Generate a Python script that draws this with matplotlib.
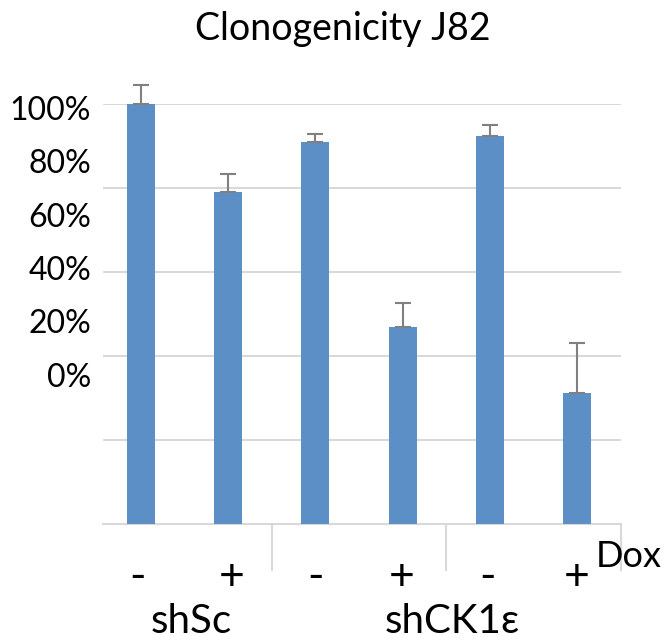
import matplotlib.pyplot as plt

W, H = 668, 641

dox = ["-", "+", "-", "+", "-", "+"]
groups = ["shSc", "shCK1ε"]
values = [1.00, 0.79, 0.91, 0.47, 0.925, 0.313]
errors = [0.045, 0.044, 0.019, 0.056, 0.026, 0.117]
ylabels = ["100%", "80%", "60%", "40%", "20%", "0%"]

plt.rcParams["font.family"] = ["Lato", "DejaVu Sans"]


def fx(x):
    return x / W


def fy(y):
    return 1 - y / H


fig = plt.figure(figsize=(W / 100, H / 100), dpi=100)
ax = fig.add_axes([fx(103), fy(524), fx(621) - fx(103), fy(104) - fy(524)])

x = range(len(values))
ax.bar(x, values, width=0.32, color="#5b8fc6", zorder=3)
ax.errorbar(x, values, yerr=[[0] * len(errors), errors], fmt="none",
            ecolor="#808080", elinewidth=1.5, capsize=6, capthick=1.5,
            zorder=4, clip_on=False)

ax.set_xlim(-0.43, 5.5)
ax.set_ylim(0, 1.0)
ax.set_yticks([0.2, 0.4, 0.6, 0.8, 1.0])
ax.yaxis.grid(True, color="#d9d9d9", linewidth=1.5, zorder=0)
ax.tick_params(left=False, labelleft=False, bottom=False, labelbottom=False)
for side in ["top", "right", "left"]:
    ax.spines[side].set_visible(False)
ax.spines["bottom"].set_color("#d9d9d9")
ax.spines["bottom"].set_linewidth(1.5)

# group separators below the axis
for sx in [1.5, 3.5, 5.5]:
    ax.plot([sx, sx], [0, -0.11], color="#d9d9d9", linewidth=1.5,
            clip_on=False, zorder=1)

fig.text(fx(343), fy(40), "Clonogenicity J82", fontsize=27,
         ha="center", va="baseline")

label_base = [120, 173, 227, 280, 333, 387]
for lab, yb in zip(ylabels, label_base):
    fig.text(fx(91), fy(yb), lab, fontsize=23, ha="right", va="baseline")

dox_x = [138, 232, 316, 402, 488, 577]
for lab, xc in zip(dox, dox_x):
    fig.text(fx(xc), fy(578), lab, fontsize=32, ha="center", va="center")

fig.text(fx(629), fy(567), "Dox", fontsize=26, ha="center", va="baseline")
fig.text(fx(191), fy(633), groups[0], fontsize=29, ha="center", va="baseline")
fig.text(fx(452), fy(633), groups[1], fontsize=29, ha="center", va="baseline")

fig.savefig("out.png", dpi=100)
